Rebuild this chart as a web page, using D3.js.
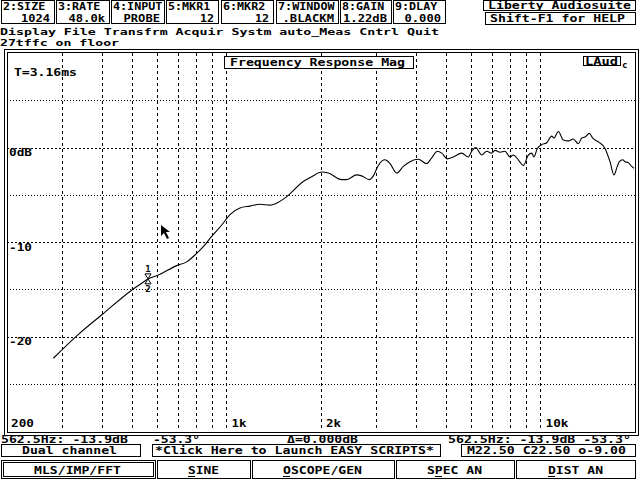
<!DOCTYPE html>
<html>
<head>
<meta charset="utf-8">
<script src="https://cdn.jsdelivr.net/npm/d3@7"></script>
<style>
  html, body { margin: 0; padding: 0; background: #fff; }
  text { font-family: "DejaVu Sans Mono", monospace; font-weight: bold; font-size: 10.5px; fill: #000; white-space: pre; }
</style>
</head>
<body>
<div id="chart"></div>
<script>
const width = 640;
const height = 480;
const charW = 8; // old VGA text cell

const freqHz = [281, 337, 401, 499, 530, 564, 607, 694, 747, 804,
  844, 897, 966, 1026, 1104, 1188, 1279, 1376, 1462, 1556,
  1756, 1868, 2010, 2110, 2328, 2414, 2599, 2696, 2851, 2936,
  3045, 3198, 3318, 3485, 3658, 3841, 4083, 4342, 4504, 4694,
  4848, 5050, 5277, 5612, 5891, 6040, 6220, 6500, 6742, 6994,
  7165, 7434, 7709, 7998, 8194, 8500, 8819, 9148, 9376, 9535,
  9770, 10090, 10470, 10860, 11040, 11400, 11820, 12270, 12720, 13200,
  13530, 13860, 14310, 14670, 15280, 16050, 16650, 17140, 17560, 17830,
  18280, 18590, 19040, 19520, 19850];
const magDb = [-22.3, -19.8, -17.7, -15.1, -14.5, -13.9, -13.5, -12.5, -12.1, -11.2,
  -10.5, -9.4, -8.2, -7.1, -6.4, -6.2, -6.0, -6.1, -5.8, -5.2,
  -3.6, -3.1, -2.6, -2.7, -3.4, -3.4, -2.9, -3.0, -3.4, -3.0,
  -1.9, -1.3, -1.7, -2.7, -2.0, -1.5, -1.25, -1.7, -1.1, -0.4,
  -0.6, -1.2, -1.0, -0.6, -1.0, -0.4, 0.0, -0.8, -0.4, -0.6,
  -0.3, -0.5, -0.4, -1.0, -0.8, -1.3, -1.9, -0.8, -0.6, -1.0,
  -0.1, 0.3, 0.5, 1.2, 1.0, 1.7, 0.8, 0.7, 0.9, 0.4,
  1.0, 1.1, 1.5, 1.0, 0.6, -0.1, -1.5, -2.9, -2.0, -1.5,
  -1.3, -1.5, -1.6, -2.0, -2.2];

// axes
const freqDomain = [200, 20000];
const dbDomain = [-30, 10];
const freqGrid = [300, 400, 500, 600, 700, 800, 900, 1000, 2000, 3000, 4000, 5000, 6000, 7000, 8000, 9000, 10000];
const freqTickValues = [200, 1000, 2000, 10000];
const freqTickLabels = ["200", "1k", "2k", "10k"];
const dbMajor = [0, -10, -20];
const dbMajorLabels = ["0dB", "-10", "-20"];
const dbMinor = [5, -5, -15, -25];

// marker
const markerHz = 562.5;
const markerDb = -13.9;

// screen furniture
const paramNames = ["2:SIZE", "3:RATE", "4:INPUT", "5:MKR1", "6:MKR2", "7:WINDOW", "8:GAIN", "9:DLAY"];
const paramValues = ["1024", "48.0k", "PROBE", "12", "12", ".BLACKM", "1.22dB", "0.000"];
const paramBoxLeft = [1, 56, 111, 166, 221, 276, 340, 393];
const paramBoxRight = [54, 109, 164, 218, 273, 338, 391, 445];
const menuLine = "Display File Transfrm Acquir Systm auto_Meas Cntrl Quit";
const fileTitle = "27tffc on floor";
const buttonNames = ["MLS/IMP/FFT", "SINE", "OSCOPE/GEN", "SPEC AN", "DIST AN"];
const buttonHot = [0, 0, 0, 1, 0];
const buttonLeft = [1, 157, 252, 396, 516];
const buttonRight = [155, 250, 394, 514, 635];

const svg = d3
  .select("#chart")
  .append("svg")
  .attr("width", width)
  .attr("height", height)
  .style("display", "block");

svg.append("rect").attr("width", width).attr("height", height).attr("fill", "#fff");

// text in fixed cells (8px unless told otherwise)
const txt = (g, x, y, s, cw = charW) =>
  g.append("text")
    .attr("x", x)
    .attr("y", y)
    .attr("textLength", s.length * cw - 1)
    .attr("lengthAdjust", "spacingAndGlyphs")
    .text(s);

const box = (g, x0, y0, x1, y1) =>
  g.append("rect")
    .attr("x", x0 + 0.5)
    .attr("y", y0 + 0.5)
    .attr("width", x1 - x0)
    .attr("height", y1 - y0)
    .attr("fill", "#fff")
    .attr("stroke", "#000")
    .attr("stroke-width", 1)
    .attr("shape-rendering", "crispEdges");

// Top parameter boxes ////////////////////////
const header = svg.append("g");
paramNames.forEach((name, i) => {
  box(header, paramBoxLeft[i], 0, paramBoxRight[i], 23);
  txt(header, paramBoxLeft[i] + 2, 10, name, 7.2);
  const v = paramValues[i];
  txt(header, paramBoxRight[i] - 3 - v.length * 7.5, 21.5, v, 7.5);
});

box(header, 483, 0, 635, 10);
txt(header, 488, 9, "Liberty Audiosuite");
box(header, 485, 12, 635, 24);
txt(header, 490, 22, "Shift-F1 for HELP");

txt(header, 0, 34.5, menuLine).style("font-size", "9.5px");
txt(header, 0, 46, fileTitle).style("font-size", "9.5px");

// Plot ////////////////////////////////////////
const x = d3.scaleLog().domain(freqDomain).range([7, 635]);
const y = d3.scaleLinear().domain(dbDomain).range([431, 53]);

const plot = svg.append("g");

plot.selectAll(".vgrid")
  .data(freqGrid)
  .enter()
  .append("line")
  .attr("class", "vgrid")
  .attr("x1", d => Math.round(x(d)) + 0.5)
  .attr("x2", d => Math.round(x(d)) + 0.5)
  .attr("y1", y(dbDomain[1]))
  .attr("y2", y(dbDomain[0]))
  .attr("stroke", "#000")
  .attr("stroke-dasharray", "3,3")
  .attr("shape-rendering", "crispEdges");

plot.selectAll(".hmajor")
  .data(dbMajor)
  .enter()
  .append("line")
  .attr("class", "hmajor")
  .attr("x1", x(freqDomain[0]))
  .attr("x2", x(freqDomain[1]))
  .attr("y1", d => Math.round(y(d)) + 0.5)
  .attr("y2", d => Math.round(y(d)) + 0.5)
  .attr("stroke", "#000")
  .attr("stroke-dasharray", "2,2")
  .attr("shape-rendering", "crispEdges");

plot.selectAll(".hminor")
  .data(dbMinor)
  .enter()
  .append("line")
  .attr("class", "hminor")
  .attr("x1", x(freqDomain[0]))
  .attr("x2", x(freqDomain[1]))
  .attr("y1", d => Math.round(y(d)) + 0.5)
  .attr("y2", d => Math.round(y(d)) + 0.5)
  .attr("stroke", "#000")
  .attr("stroke-dasharray", "1,2")
  .attr("shape-rendering", "crispEdges");

// frequency labels along the bottom
freqTickValues.forEach((f, i) => {
  txt(plot, x(f) + (i === 0 ? 4 : 5), 427, freqTickLabels[i]);
});
// level labels
dbMajor.forEach((d, i) => {
  txt(plot, 9, y(d) + 8.5, dbMajorLabels[i]);
});

// the response curve
const line = d3.line()
  .x(d => x(d[0]))
  .y(d => y(d[1]))
  .curve(d3.curveMonotoneX);

plot.append("path")
  .datum(freqHz.map((f, i) => [f, magDb[i]]))
  .attr("d", line)
  .attr("fill", "none")
  .attr("stroke", "#000")
  .attr("stroke-width", 1.1);

// marker 1/2
const mx = x(markerHz);
const my = y(markerDb);
plot.append("path")
  .attr("d", `M${mx - 3},${my - 5}L${mx + 3},${my - 5}L${mx},${my}Z M${mx - 3},${my + 5}L${mx + 3},${my + 5}L${mx},${my}Z`)
  .attr("fill", "#fff")
  .attr("stroke", "#000");
plot.append("text").attr("x", mx).attr("y", my - 7).attr("text-anchor", "middle").style("font-size", "9px").text("1");
plot.append("text").attr("x", mx).attr("y", my + 13).attr("text-anchor", "middle").style("font-size", "9px").text("2");

// double frame
box(plot, 4, 49, 638, 435).attr("fill", "none");
box(plot, 7, 52, 635, 432).attr("fill", "none");

// title and time stamp
box(plot, 224, 56, 413, 68);
txt(plot, 230, 66, "Frequency Response Mag");
txt(plot, 14, 76, "T=3.16ms");

// LAud logo
box(plot, 583, 56, 620, 65);
plot.append("text").attr("x", 585).attr("y", 64.5)
  .attr("textLength", 33).attr("lengthAdjust", "spacingAndGlyphs")
  .style("font-size", "10px").text("LAud");
plot.append("text").attr("x", 622).attr("y", 68).style("font-size", "9px").text("c");

// mouse pointer
plot.append("path")
  .attr("transform", "translate(161,225)")
  .attr("d", "M0,0L0,11L3,8L6,14L8,13L5,7L9,7Z")
  .attr("fill", "#000");

// Status lines ////////////////////////////////
const bottom = svg.append("g");
txt(bottom, 1, 443, "562.5Hz: -13.9dB");
txt(bottom, 153, 443, "-53.3\u00b0");
txt(bottom, 287, 443, "\u0394=0.000dB");
txt(bottom, 448, 443, "562.5Hz: -13.9dB -53.3\u00b0");

box(bottom, 1, 444, 140, 456);
txt(bottom, 70 - 6 * charW, 454, "Dual channel");
box(bottom, 152, 444, 440, 456);
txt(bottom, 155, 454, "*Click Here to Launch EASY SCRIPTS*");
box(bottom, 461, 444, 635, 456);
txt(bottom, 467, 454, "M22.50 C22.50 o-9.00");

// function key buttons
buttonNames.forEach((name, i) => {
  box(bottom, buttonLeft[i], 460, buttonRight[i], 478);
  if (i === 0) box(bottom, buttonLeft[i] + 2, 462, buttonRight[i] - 2, 476).attr("fill", "none");
  const cx = (buttonLeft[i] + buttonRight[i]) / 2;
  const x0 = Math.round(cx - name.length * charW / 2);
  txt(bottom, x0, 474, name);
  const hx = x0 + buttonHot[i] * charW;
  bottom.append("line")
    .attr("x1", hx).attr("x2", hx + 7)
    .attr("y1", 476.5).attr("y2", 476.5)
    .attr("stroke", "#000")
    .attr("shape-rendering", "crispEdges");
});
</script>
</body>
</html>
